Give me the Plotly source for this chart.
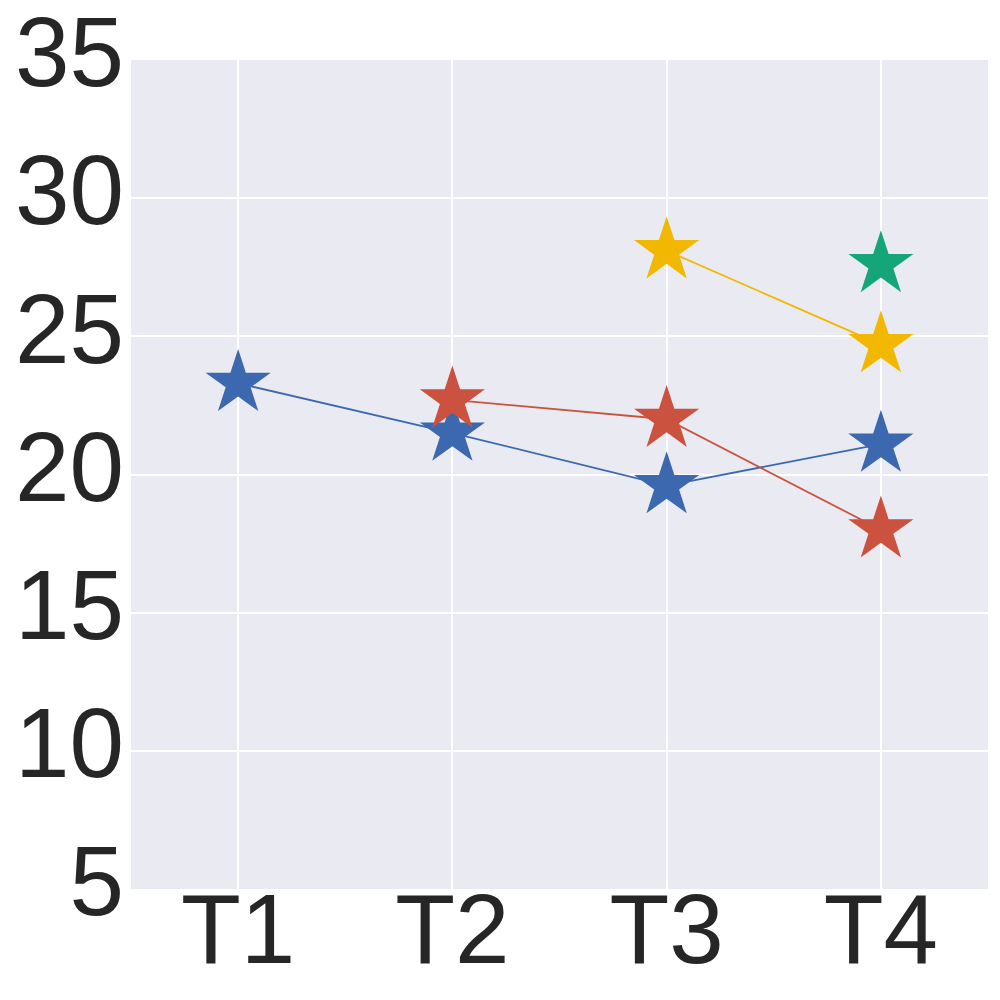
import plotly.graph_objects as go

categories = ['T1', 'T2', 'T3', 'T4']

blue_x = ['T1', 'T2', 'T3', 'T4']
blue_y = [23.3, 21.5, 19.6, 21.1]

red_x = ['T2', 'T3', 'T4']
red_y = [22.7, 22.0, 18.0]

yellow_x = ['T3', 'T4']
yellow_y = [28.1, 24.7]

green_x = ['T4']
green_y = [27.6]

y_ticks = [5, 10, 15, 20, 25, 30, 35]

series = [
    (blue_x, blue_y, '#3b68ae'),
    (red_x, red_y, '#cc5240'),
    (yellow_x, yellow_y, '#f2b800'),
    (green_x, green_y, '#14a678'),
]

fig = go.Figure()
for xs, ys, color in series:
    fig.add_trace(go.Scatter(
        x=xs, y=ys,
        mode='lines+markers',
        line={'color': color, 'width': 1.8},
        marker={'symbol': 'star', 'size': 49, 'color': color, 'line': {'width': 0}},
        showlegend=False
    ))

# page body has an 8px margin, so margins are offset to keep the plot where it belongs
fig.update_layout(
    width=1000, height=1000,
    margin={'l': 123, 'r': 20, 't': 52, 'b': 119},
    plot_bgcolor='#eaeaf2',
    paper_bgcolor='white',
    font={'family': 'Liberation Sans, Arial, sans-serif', 'color': '#262626', 'size': 98},
)
fig.update_xaxes(
    type='category', categoryorder='array', categoryarray=categories,
    range=[-0.5, 3.5], automargin=False,
    showgrid=True, gridcolor='white', gridwidth=1.5,
    showline=False, zeroline=False, ticks='',
    tickfont={'size': 98},
    ticklabelstandoff=-25,
)
fig.update_yaxes(
    range=[5, 35], tickvals=y_ticks, automargin=False,
    showgrid=True, gridcolor='white', gridwidth=1.5,
    showline=False, zeroline=False, ticks='',
    tickfont={'size': 98},
    ticklabelstandoff=6,
    ticklabelshift=-8,
    ticklabeloverflow='allow',
)

fig.write_html("out.html")
